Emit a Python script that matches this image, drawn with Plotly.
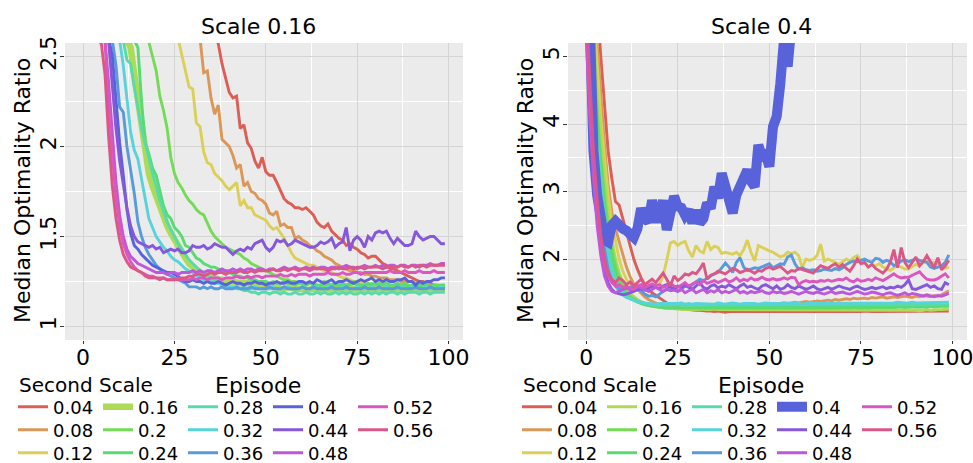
import colorsys
import plotly.graph_objects as go

W, H = 973, 463

# ---------------- data ----------------
second_scales = ["0.04", "0.08", "0.12", "0.16", "0.2", "0.24", "0.28",
                 "0.32", "0.36", "0.4", "0.44", "0.48", "0.52", "0.56"]
panel_titles = ["Scale 0.16", "Scale 0.4"]
x_ticks = [0, 25, 50, 75, 100]
y_ticks_left = [1, 1.5, 2, 2.5]
y_ticks_right = [1, 2, 3, 4, 5]

# Scale 0.16 panel (episode 0..99)
L004 = [9.5, 8.8, 8.1, 7.5, 6.9, 6.4, 5.9, 5.5, 5.1, 4.8,
        4.5, 4.3, 4.1, 3.9, 3.75, 3.6, 3.5, 3.4, 3.3, 3.22,
        3.15, 3.1, 3.05, 3.0, 2.96, 2.93, 2.9, 2.87, 2.84, 2.81,
        2.79, 2.77, 2.74, 2.72, 2.69, 2.66, 2.63, 2.57, 2.46, 2.38,
        2.3, 2.27, 2.28, 2.1, 2.12, 2.02, 1.99, 1.92, 1.88, 1.94,
        1.86, 1.84, 1.84, 1.8, 1.75, 1.71, 1.69, 1.68, 1.66, 1.66,
        1.65, 1.66, 1.64, 1.62, 1.58, 1.56, 1.55, 1.57, 1.53, 1.51,
        1.49, 1.48, 1.45, 1.46, 1.44, 1.43, 1.41, 1.4, 1.38, 1.39,
        1.39, 1.37, 1.35, 1.34, 1.32, 1.32, 1.31, 1.3, 1.29, 1.28,
        1.27, 1.26, 1.25, 1.25, 1.24, 1.24, 1.23, 1.23, 1.22, 1.22]
L008 = [9.0, 8.2, 7.4, 6.7, 6.1, 5.6, 5.1, 4.7, 4.4, 4.1,
        3.85, 3.65, 3.48, 3.33, 3.2, 3.1, 3.0, 2.95, 2.9, 2.86,
        2.83, 2.8, 2.78, 2.76, 2.74, 2.72, 2.7, 2.68, 2.66, 2.64,
        2.62, 2.61, 2.6, 2.41, 2.42, 2.27, 2.18, 2.23, 2.04, 2.02,
        2.0, 1.95, 1.88, 1.9, 1.78, 1.8, 1.75, 1.74, 1.71, 1.7,
        1.68, 1.63, 1.62, 1.64, 1.56, 1.57, 1.55, 1.55, 1.49, 1.5,
        1.48, 1.47, 1.45, 1.44, 1.42, 1.41, 1.39, 1.38, 1.37, 1.35,
        1.34, 1.33, 1.32, 1.31, 1.31, 1.3, 1.3, 1.29, 1.29, 1.28,
        1.28, 1.27, 1.27, 1.27, 1.26, 1.26, 1.26, 1.25, 1.25, 1.25,
        1.25, 1.24, 1.24, 1.24, 1.24, 1.23, 1.23, 1.23, 1.23, 1.23]
L012 = [8.5, 7.6, 6.8, 6.1, 5.5, 5.0, 4.6, 4.25, 3.95, 3.7,
        3.5, 3.33, 3.18, 3.06, 2.96, 2.88, 2.82, 2.77, 2.73, 2.7,
        2.68, 2.66, 2.65, 2.64, 2.63, 2.62, 2.6, 2.51, 2.42, 2.33,
        2.32, 2.13, 2.11, 1.97, 1.91, 1.9, 1.85, 1.83, 1.81, 1.78,
        1.76, 1.78, 1.8, 1.67, 1.7, 1.66, 1.66, 1.62, 1.61, 1.6,
        1.59, 1.56, 1.54, 1.55, 1.52, 1.49, 1.45, 1.41, 1.38, 1.37,
        1.36, 1.35, 1.34, 1.34, 1.33, 1.32, 1.31, 1.31, 1.3, 1.29,
        1.28, 1.27, 1.27, 1.26, 1.25, 1.25, 1.24, 1.24, 1.23, 1.23,
        1.22, 1.22, 1.22, 1.21, 1.22, 1.21, 1.21, 1.21, 1.21, 1.21,
        1.21, 1.2, 1.21, 1.2, 1.2, 1.2, 1.2, 1.2, 1.2, 1.2]
L016 = [6.5, 5.6, 4.9, 4.3, 3.9, 3.55, 3.28, 3.05, 2.88, 2.76,
        2.68, 2.63, 2.6, 2.55, 2.4, 2.25, 2.1, 1.95, 1.85, 1.78,
        1.72, 1.66, 1.61, 1.56, 1.52, 1.48, 1.44, 1.41, 1.38, 1.35,
        1.33, 1.31, 1.3, 1.29, 1.28, 1.27, 1.27, 1.26, 1.26, 1.25,
        1.25, 1.25, 1.24, 1.24, 1.24, 1.24, 1.23, 1.23, 1.23, 1.23,
        1.22, 1.22, 1.22, 1.22, 1.21, 1.21, 1.22, 1.21, 1.21, 1.21,
        1.21, 1.2, 1.21, 1.21, 1.21, 1.2, 1.21, 1.21, 1.2, 1.21,
        1.21, 1.21, 1.2, 1.21, 1.21, 1.2, 1.21, 1.21, 1.21, 1.2,
        1.21, 1.21, 1.2, 1.21, 1.21, 1.21, 1.2, 1.21, 1.21, 1.2,
        1.21, 1.21, 1.21, 1.2, 1.21, 1.21, 1.2, 1.21, 1.21, 1.21]
L020 = [7.5, 6.5, 5.7, 5.0, 4.45, 4.0, 3.65, 3.36, 3.12, 2.95,
        2.83, 2.75, 2.7, 2.67, 2.65, 2.63, 2.61, 2.6, 2.58, 2.5,
        2.42, 2.28, 2.2, 2.1, 1.94, 1.85, 1.8, 1.77, 1.73, 1.7,
        1.68, 1.65, 1.63, 1.62, 1.57, 1.53, 1.5, 1.48, 1.46, 1.44,
        1.43, 1.42, 1.41, 1.4, 1.38, 1.37, 1.35, 1.34, 1.33, 1.32,
        1.31, 1.3, 1.29, 1.28, 1.27, 1.26, 1.26, 1.25, 1.25, 1.24,
        1.24, 1.23, 1.24, 1.23, 1.23, 1.22, 1.23, 1.23, 1.22, 1.23,
        1.22, 1.23, 1.22, 1.23, 1.24, 1.23, 1.22, 1.23, 1.23, 1.24,
        1.23, 1.24, 1.23, 1.22, 1.23, 1.23, 1.22, 1.23, 1.24, 1.23,
        1.22, 1.23, 1.23, 1.24, 1.23, 1.22, 1.23, 1.23, 1.22, 1.23]
L024 = [6.8, 5.9, 5.1, 4.5, 4.0, 3.6, 3.3, 3.05, 2.87, 2.75,
        2.68, 2.64, 2.62, 2.6, 2.59, 2.55, 2.25, 2.02, 1.96, 1.88,
        1.84, 1.76, 1.67, 1.62, 1.6, 1.55, 1.53, 1.5, 1.45, 1.44,
        1.41, 1.38, 1.37, 1.35, 1.34, 1.33, 1.33, 1.32, 1.31, 1.3,
        1.3, 1.29, 1.28, 1.28, 1.27, 1.27, 1.26, 1.26, 1.25, 1.25,
        1.25, 1.24, 1.25, 1.24, 1.24, 1.25, 1.24, 1.24, 1.23, 1.24,
        1.24, 1.23, 1.24, 1.24, 1.23, 1.23, 1.25, 1.24, 1.23, 1.24,
        1.23, 1.24, 1.23, 1.24, 1.25, 1.24, 1.23, 1.23, 1.24, 1.23,
        1.24, 1.23, 1.24, 1.24, 1.23, 1.23, 1.24, 1.23, 1.23, 1.22,
        1.23, 1.23, 1.22, 1.23, 1.23, 1.22, 1.23, 1.22, 1.23, 1.23]
L028 = [6.3, 5.4, 4.7, 4.1, 3.65, 3.3, 3.02, 2.82, 2.7, 2.64,
        2.61, 2.59, 2.48, 2.46, 2.33, 2.22, 2.1, 2.02, 1.93, 1.85,
        1.78, 1.7, 1.64, 1.58, 1.54, 1.5, 1.46, 1.43, 1.4, 1.37,
        1.35, 1.33, 1.31, 1.3, 1.28, 1.27, 1.26, 1.25, 1.24, 1.23,
        1.22, 1.22, 1.21, 1.21, 1.2, 1.2, 1.19, 1.19, 1.18, 1.19,
        1.19, 1.18, 1.19, 1.19, 1.18, 1.19, 1.18, 1.18, 1.19, 1.18,
        1.18, 1.19, 1.18, 1.18, 1.19, 1.18, 1.19, 1.18, 1.18, 1.19,
        1.18, 1.19, 1.18, 1.19, 1.18, 1.18, 1.19, 1.18, 1.19, 1.18,
        1.19, 1.18, 1.19, 1.18, 1.19, 1.19, 1.18, 1.19, 1.18, 1.19,
        1.19, 1.19, 1.18, 1.19, 1.19, 1.18, 1.19, 1.19, 1.19, 1.19]
L032 = [5.8, 5.0, 4.3, 3.75, 3.3, 3.0, 2.8, 2.68, 2.62, 2.6,
        2.59, 2.45, 2.25, 2.08, 1.98, 1.93, 1.82, 1.72, 1.6, 1.55,
        1.5, 1.47, 1.44, 1.42, 1.39, 1.37, 1.36, 1.34, 1.32, 1.31,
        1.3, 1.28, 1.27, 1.26, 1.25, 1.25, 1.24, 1.24, 1.23, 1.23,
        1.22, 1.22, 1.22, 1.21, 1.22, 1.21, 1.21, 1.22, 1.21, 1.21,
        1.21, 1.21, 1.22, 1.21, 1.21, 1.21, 1.22, 1.21, 1.21, 1.21,
        1.22, 1.21, 1.21, 1.21, 1.22, 1.21, 1.21, 1.22, 1.21, 1.21,
        1.21, 1.22, 1.21, 1.21, 1.21, 1.22, 1.21, 1.21, 1.21, 1.22,
        1.21, 1.21, 1.21, 1.22, 1.21, 1.21, 1.21, 1.22, 1.21, 1.21,
        1.22, 1.21, 1.21, 1.21, 1.22, 1.21, 1.21, 1.21, 1.22, 1.21]
L036 = [5.2, 4.4, 3.75, 3.25, 2.95, 2.75, 2.65, 2.6, 2.59, 2.45,
        2.22, 2.19, 2.0, 1.88, 1.74, 1.58, 1.5, 1.44, 1.4, 1.37,
        1.34, 1.32, 1.3, 1.29, 1.28, 1.27, 1.26, 1.25, 1.24, 1.22,
        1.22, 1.22, 1.21, 1.22, 1.21, 1.22, 1.21, 1.21, 1.22, 1.21,
        1.21, 1.21, 1.22, 1.21, 1.21, 1.21, 1.22, 1.21, 1.21, 1.21,
        1.21, 1.22, 1.21, 1.21, 1.21, 1.22, 1.21, 1.21, 1.21, 1.21,
        1.22, 1.21, 1.21, 1.22, 1.21, 1.21, 1.21, 1.21, 1.22, 1.21,
        1.21, 1.21, 1.22, 1.21, 1.21, 1.21, 1.21, 1.22, 1.21, 1.21,
        1.21, 1.22, 1.21, 1.21, 1.21, 1.21, 1.22, 1.21, 1.21, 1.21,
        1.21, 1.22, 1.21, 1.21, 1.21, 1.22, 1.21, 1.21, 1.21, 1.21]
L040 = [5.0, 4.2, 3.6, 3.15, 2.85, 2.7, 2.63, 2.6, 2.5, 2.25,
        2.02, 1.84, 1.65, 1.52, 1.45, 1.43, 1.4, 1.38, 1.36, 1.34,
        1.33, 1.32, 1.31, 1.3, 1.3, 1.29, 1.28, 1.26, 1.25, 1.25,
        1.26, 1.25, 1.25, 1.24, 1.25, 1.24, 1.24, 1.25, 1.24, 1.23,
        1.24, 1.25, 1.24, 1.24, 1.23, 1.24, 1.24, 1.25, 1.24, 1.24,
        1.23, 1.24, 1.24, 1.25, 1.24, 1.24, 1.25, 1.24, 1.24, 1.25,
        1.25, 1.24, 1.25, 1.24, 1.26, 1.25, 1.24, 1.25, 1.26, 1.24,
        1.25, 1.25, 1.26, 1.25, 1.24, 1.25, 1.26, 1.25, 1.26, 1.27,
        1.25, 1.26, 1.25, 1.26, 1.25, 1.25, 1.26, 1.26, 1.27, 1.25,
        1.25, 1.23, 1.25, 1.24, 1.25, 1.25, 1.26, 1.26, 1.27, 1.27]
L044 = [4.8, 4.0, 3.4, 3.0, 2.75, 2.64, 2.6, 2.58, 2.35, 2.1,
        1.92, 1.78, 1.66, 1.56, 1.5, 1.47, 1.46, 1.45, 1.44, 1.45,
        1.43, 1.44, 1.41, 1.42, 1.43, 1.42, 1.43, 1.41, 1.41, 1.42,
        1.45, 1.44, 1.44, 1.45, 1.43, 1.44, 1.46, 1.45, 1.44, 1.44,
        1.42, 1.4, 1.42, 1.43, 1.42, 1.44, 1.43, 1.46, 1.47, 1.48,
        1.44, 1.42, 1.44, 1.48, 1.47, 1.48, 1.45, 1.46, 1.48, 1.47,
        1.46, 1.45, 1.44, 1.44, 1.45, 1.47, 1.46, 1.47, 1.49, 1.44,
        1.46, 1.47, 1.55, 1.42, 1.48, 1.5, 1.48, 1.44, 1.5, 1.48,
        1.52, 1.53, 1.52, 1.53, 1.49, 1.46, 1.49, 1.47, 1.45, 1.45,
        1.46, 1.53, 1.5, 1.48, 1.49, 1.5, 1.5, 1.48, 1.46, 1.46]
L048 = [4.6, 3.8, 3.25, 2.9, 2.7, 2.62, 2.59, 2.35, 2.05, 1.8,
        1.62, 1.5, 1.43, 1.39, 1.37, 1.35, 1.34, 1.33, 1.32, 1.31,
        1.3, 1.3, 1.3, 1.29, 1.3, 1.3, 1.29, 1.3, 1.3, 1.3,
        1.31, 1.3, 1.31, 1.3, 1.31, 1.31, 1.3, 1.31, 1.32, 1.31,
        1.31, 1.32, 1.31, 1.32, 1.31, 1.32, 1.32, 1.31, 1.32, 1.32,
        1.31, 1.32, 1.32, 1.31, 1.32, 1.33, 1.32, 1.32, 1.33, 1.32,
        1.32, 1.33, 1.32, 1.33, 1.32, 1.33, 1.33, 1.32, 1.33, 1.33,
        1.32, 1.33, 1.34, 1.33, 1.33, 1.32, 1.33, 1.34, 1.33, 1.33,
        1.34, 1.33, 1.34, 1.33, 1.34, 1.34, 1.33, 1.34, 1.34, 1.33,
        1.34, 1.34, 1.33, 1.34, 1.34, 1.35, 1.34, 1.34, 1.35, 1.35]
L052 = [4.4, 3.6, 3.1, 2.8, 2.65, 2.6, 2.58, 2.25, 1.95, 1.72,
        1.56, 1.46, 1.4, 1.36, 1.33, 1.31, 1.3, 1.29, 1.28, 1.28,
        1.27, 1.27, 1.27, 1.26, 1.26, 1.26, 1.27, 1.26, 1.26, 1.26,
        1.27, 1.26, 1.27, 1.27, 1.26, 1.27, 1.27, 1.27, 1.26, 1.27,
        1.27, 1.27, 1.28, 1.27, 1.27, 1.28, 1.27, 1.28, 1.28, 1.27,
        1.28, 1.28, 1.28, 1.28, 1.29, 1.28, 1.28, 1.29, 1.28, 1.29,
        1.29, 1.29, 1.28, 1.29, 1.29, 1.29, 1.29, 1.3, 1.29, 1.29,
        1.29, 1.3, 1.29, 1.29, 1.3, 1.3, 1.29, 1.3, 1.3, 1.3,
        1.3, 1.3, 1.3, 1.3, 1.31, 1.3, 1.3, 1.3, 1.31, 1.3,
        1.3, 1.3, 1.31, 1.3, 1.3, 1.3, 1.31, 1.3, 1.3, 1.3]
L056 = [4.2, 3.4, 2.95, 2.7, 2.6, 2.57, 2.4, 2.05, 1.78, 1.6,
        1.48, 1.4, 1.36, 1.33, 1.32, 1.31, 1.3, 1.28, 1.27, 1.27,
        1.27, 1.26, 1.27, 1.26, 1.26, 1.26, 1.26, 1.27, 1.27, 1.28,
        1.28, 1.29, 1.29, 1.28, 1.29, 1.3, 1.29, 1.3, 1.3, 1.29,
        1.3, 1.3, 1.3, 1.31, 1.3, 1.3, 1.31, 1.3, 1.31, 1.31,
        1.31, 1.31, 1.32, 1.31, 1.31, 1.32, 1.31, 1.32, 1.32, 1.31,
        1.32, 1.32, 1.31, 1.32, 1.32, 1.32, 1.32, 1.31, 1.32, 1.32,
        1.33, 1.32, 1.32, 1.33, 1.32, 1.33, 1.33, 1.32, 1.33, 1.33,
        1.33, 1.33, 1.32, 1.33, 1.33, 1.33, 1.33, 1.34, 1.33, 1.33,
        1.34, 1.33, 1.34, 1.34, 1.33, 1.34, 1.34, 1.34, 1.34, 1.34]

# Scale 0.4 panel (episode 0..99)
R004 = [9.0, 7.8, 6.7, 5.8, 5.0, 4.3, 3.6, 3.2, 2.85, 2.8,
        2.6, 2.4, 2.2, 2.0, 1.85, 1.72, 1.62, 1.55, 1.5, 1.46,
        1.42, 1.38, 1.35, 1.32, 1.3, 1.28, 1.26, 1.25, 1.25, 1.24,
        1.24, 1.24, 1.23, 1.23, 1.23, 1.22, 1.23, 1.22, 1.21, 1.22,
        1.22, 1.22, 1.21, 1.22, 1.22, 1.22, 1.21, 1.22, 1.22, 1.21,
        1.22, 1.22, 1.22, 1.21, 1.22, 1.22, 1.22, 1.21, 1.22, 1.22,
        1.21, 1.22, 1.21, 1.21, 1.22, 1.22, 1.22, 1.21, 1.22, 1.22,
        1.22, 1.22, 1.22, 1.21, 1.22, 1.22, 1.23, 1.22, 1.22, 1.22,
        1.22, 1.22, 1.23, 1.22, 1.22, 1.23, 1.22, 1.22, 1.23, 1.22,
        1.22, 1.23, 1.22, 1.23, 1.22, 1.23, 1.23, 1.23, 1.22, 1.23]
R008 = [8.5, 7.2, 6.1, 5.2, 4.4, 3.7, 3.1, 2.7, 2.45, 2.25,
        2.05, 1.88, 1.74, 1.63, 1.55, 1.49, 1.44, 1.4, 1.37, 1.34,
        1.32, 1.3, 1.29, 1.28, 1.27, 1.27, 1.26, 1.26, 1.25, 1.26,
        1.26, 1.26, 1.27, 1.27, 1.27, 1.28, 1.28, 1.28, 1.29, 1.29,
        1.3, 1.3, 1.31, 1.3, 1.31, 1.32, 1.32, 1.31, 1.32, 1.33,
        1.33, 1.34, 1.33, 1.34, 1.35, 1.34, 1.35, 1.36, 1.35, 1.36,
        1.37, 1.36, 1.37, 1.38, 1.37, 1.38, 1.39, 1.38, 1.4, 1.39,
        1.4, 1.41, 1.4, 1.42, 1.41, 1.42, 1.42, 1.41, 1.43, 1.42,
        1.43, 1.44, 1.42, 1.43, 1.44, 1.43, 1.44, 1.45, 1.44, 1.43,
        1.45, 1.44, 1.46, 1.45, 1.44, 1.46, 1.45, 1.47, 1.5, 1.53]
R012 = [8.0, 6.8, 5.8, 4.9, 4.1, 3.5, 2.95, 2.55, 2.25, 2.0,
        1.82, 1.7, 1.62, 1.58, 1.55, 1.54, 1.55, 1.58, 1.6, 1.62,
        1.62, 1.75, 1.98, 2.24, 2.26, 2.2, 2.24, 2.26, 2.12, 2.03,
        2.2, 2.12, 2.09, 2.26, 2.14, 2.19, 2.17, 2.08, 2.1, 2.08,
        2.07, 2.1, 2.05, 2.14, 2.28, 2.1, 1.97, 2.2, 2.17, 2.15,
        2.12, 2.1, 2.06, 2.03, 2.05, 2.1, 2.08, 2.1, 2.05, 1.87,
        2.0, 1.98, 2.0, 2.05, 2.22, 1.97, 2.0, 1.98, 1.95, 1.92,
        1.96, 2.0, 1.97, 2.02, 2.05, 1.98, 1.95, 1.88, 1.92, 1.9,
        1.93, 1.88, 1.86, 1.83, 1.87, 1.9, 1.88, 1.85, 1.85, 1.88,
        1.92, 1.9, 1.95, 1.97, 1.93, 1.95, 1.93, 1.9, 1.86, 1.88]
R016 = [7.5, 6.3, 5.3, 4.5, 3.8, 3.2, 2.7, 2.3, 2.0, 1.8,
        1.66, 1.56, 1.49, 1.44, 1.4, 1.37, 1.34, 1.32, 1.3, 1.29,
        1.28, 1.28, 1.27, 1.27, 1.26, 1.26, 1.26, 1.25, 1.26, 1.25,
        1.25, 1.26, 1.25, 1.25, 1.25, 1.26, 1.25, 1.25, 1.24, 1.25,
        1.25, 1.24, 1.25, 1.25, 1.24, 1.25, 1.25, 1.24, 1.25, 1.24,
        1.25, 1.25, 1.24, 1.25, 1.24, 1.24, 1.25, 1.24, 1.24, 1.25,
        1.24, 1.24, 1.25, 1.24, 1.24, 1.25, 1.24, 1.24, 1.25, 1.24,
        1.24, 1.25, 1.24, 1.25, 1.24, 1.24, 1.25, 1.24, 1.24, 1.25,
        1.24, 1.25, 1.24, 1.24, 1.25, 1.24, 1.24, 1.25, 1.24, 1.25,
        1.24, 1.23, 1.24, 1.25, 1.24, 1.25, 1.25, 1.25, 1.26, 1.26]
R020 = [7.2, 6.0, 5.0, 4.2, 3.5, 2.95, 2.5, 2.15, 1.9, 1.72,
        1.6, 1.51, 1.45, 1.41, 1.38, 1.35, 1.33, 1.31, 1.3, 1.29,
        1.28, 1.28, 1.27, 1.27, 1.27, 1.26, 1.27, 1.27, 1.26, 1.27,
        1.26, 1.27, 1.27, 1.26, 1.27, 1.26, 1.26, 1.27, 1.26, 1.26,
        1.27, 1.26, 1.26, 1.27, 1.26, 1.26, 1.27, 1.26, 1.27, 1.26,
        1.26, 1.27, 1.26, 1.26, 1.27, 1.26, 1.27, 1.26, 1.26, 1.27,
        1.27, 1.26, 1.27, 1.27, 1.26, 1.27, 1.27, 1.26, 1.27, 1.27,
        1.28, 1.27, 1.27, 1.28, 1.27, 1.27, 1.28, 1.27, 1.28, 1.28,
        1.27, 1.28, 1.28, 1.28, 1.28, 1.29, 1.28, 1.28, 1.29, 1.29,
        1.28, 1.29, 1.29, 1.29, 1.3, 1.29, 1.3, 1.31, 1.31, 1.32]
R024 = [7.0, 5.8, 4.8, 4.0, 3.35, 2.8, 2.35, 2.02, 1.8, 1.64,
        1.54, 1.47, 1.42, 1.39, 1.36, 1.34, 1.32, 1.31, 1.3, 1.29,
        1.29, 1.28, 1.28, 1.28, 1.29, 1.28, 1.28, 1.29, 1.28, 1.28,
        1.28, 1.29, 1.28, 1.28, 1.29, 1.28, 1.28, 1.28, 1.29, 1.28,
        1.29, 1.28, 1.28, 1.29, 1.28, 1.28, 1.29, 1.28, 1.28, 1.29,
        1.28, 1.28, 1.29, 1.28, 1.28, 1.29, 1.28, 1.29, 1.28, 1.28,
        1.29, 1.28, 1.28, 1.29, 1.28, 1.29, 1.28, 1.28, 1.29, 1.28,
        1.29, 1.29, 1.28, 1.29, 1.28, 1.29, 1.29, 1.28, 1.29, 1.29,
        1.28, 1.29, 1.29, 1.28, 1.29, 1.29, 1.3, 1.29, 1.29, 1.3,
        1.29, 1.29, 1.3, 1.29, 1.3, 1.3, 1.29, 1.3, 1.3, 1.3]
R028 = [6.8, 5.6, 4.6, 3.8, 3.15, 2.62, 2.2, 1.9, 1.7, 1.57,
        1.49, 1.44, 1.41, 1.38, 1.36, 1.35, 1.34, 1.33, 1.32, 1.32,
        1.31, 1.32, 1.32, 1.31, 1.32, 1.32, 1.31, 1.32, 1.31, 1.32,
        1.32, 1.31, 1.32, 1.31, 1.32, 1.32, 1.31, 1.32, 1.32, 1.31,
        1.32, 1.32, 1.31, 1.32, 1.32, 1.31, 1.32, 1.31, 1.32, 1.32,
        1.31, 1.32, 1.32, 1.31, 1.32, 1.32, 1.31, 1.32, 1.32, 1.31,
        1.32, 1.32, 1.31, 1.32, 1.32, 1.31, 1.32, 1.32, 1.31, 1.32,
        1.32, 1.31, 1.32, 1.31, 1.32, 1.32, 1.31, 1.32, 1.32, 1.31,
        1.32, 1.32, 1.31, 1.32, 1.32, 1.31, 1.32, 1.32, 1.31, 1.32,
        1.32, 1.31, 1.32, 1.32, 1.31, 1.32, 1.32, 1.31, 1.32, 1.32]
R032 = [6.5, 5.3, 4.3, 3.5, 2.9, 2.4, 2.02, 1.76, 1.6, 1.52,
        1.47, 1.43, 1.41, 1.39, 1.37, 1.36, 1.35, 1.34, 1.34, 1.33,
        1.34, 1.34, 1.33, 1.34, 1.33, 1.34, 1.35, 1.33, 1.34, 1.33,
        1.34, 1.34, 1.33, 1.34, 1.34, 1.33, 1.35, 1.34, 1.33, 1.34,
        1.35, 1.34, 1.33, 1.34, 1.34, 1.35, 1.34, 1.33, 1.34, 1.35,
        1.34, 1.34, 1.33, 1.34, 1.35, 1.34, 1.34, 1.35, 1.34, 1.33,
        1.34, 1.35, 1.34, 1.34, 1.35, 1.34, 1.34, 1.35, 1.34, 1.35,
        1.34, 1.35, 1.34, 1.34, 1.35, 1.35, 1.34, 1.35, 1.35, 1.34,
        1.35, 1.35, 1.34, 1.35, 1.35, 1.36, 1.35, 1.35, 1.35, 1.36,
        1.35, 1.35, 1.36, 1.35, 1.36, 1.36, 1.35, 1.36, 1.36, 1.36]
R036 = [6.2, 5.0, 4.0, 3.2, 2.6, 2.15, 1.85, 1.68, 1.6, 1.56,
        1.55, 1.56, 1.58, 1.6, 1.57, 1.52, 1.48, 1.45, 1.46, 1.44,
        1.48, 1.52, 1.55, 1.6, 1.57, 1.52, 1.55, 1.6, 1.58, 1.62,
        1.66, 1.7, 1.68, 1.72, 1.75, 1.78, 1.8, 1.87, 1.94, 1.88,
        1.8, 1.95, 2.02, 1.88, 1.83, 1.85, 1.87, 1.86, 1.88, 1.9,
        1.93, 1.87, 1.9, 1.93, 1.92, 2.03, 2.06, 1.93, 1.85, 1.87,
        1.84, 1.83, 1.84, 1.82, 1.83, 1.85, 1.84, 1.83, 1.86, 1.84,
        1.87, 1.92, 1.95, 1.97, 1.96, 1.98, 2.0, 1.97, 1.95, 2.01,
        2.0, 1.95, 1.98, 1.96, 1.9, 1.93, 1.97, 1.99, 1.96, 1.98,
        2.0, 1.98, 1.97, 1.95, 1.88, 1.86, 1.88, 1.9, 1.95, 2.06]
# 0.4 leaves the visible range after episode 58
R040 = [7.5, 4.6, 3.6, 2.95, 2.5, 2.28, 2.25, 2.5, 2.56, 2.48,
        2.45, 2.42, 2.36, 2.32, 2.45, 2.75, 2.6, 2.55, 2.87, 2.6,
        2.6, 2.87, 2.43, 2.7, 2.93, 2.78, 2.76, 2.65, 2.73, 2.53,
        2.72, 2.53, 2.6, 2.83, 2.75, 3.07, 2.9, 3.27, 3.1, 2.85,
        2.68, 2.95, 3.1, 3.23, 3.32, 3.15, 3.07, 3.69, 3.52, 3.55,
        3.37, 3.96, 4.11, 4.6, 5.25, 4.85, 5.4, 5.9, 6.6]
R044 = [5.5, 4.3, 3.4, 2.7, 2.2, 1.85, 1.65, 1.55, 1.5, 1.48,
        1.47, 1.48, 1.5, 1.52, 1.55, 1.56, 1.54, 1.57, 1.6, 1.58,
        1.56, 1.6, 1.62, 1.58, 1.55, 1.6, 1.57, 1.62, 1.58, 1.55,
        1.6, 1.65, 1.58, 1.55, 1.6, 1.62, 1.57, 1.6, 1.58, 1.62,
        1.59, 1.56, 1.6, 1.63, 1.58, 1.6, 1.57, 1.55, 1.6, 1.62,
        1.59, 1.56, 1.6, 1.55, 1.57, 1.62, 1.58, 1.56, 1.6, 1.58,
        1.55, 1.57, 1.6, 1.56, 1.54, 1.56, 1.58, 1.55, 1.57, 1.6,
        1.58, 1.56, 1.55, 1.58, 1.6, 1.57, 1.55, 1.56, 1.58, 1.56,
        1.57, 1.59, 1.56, 1.58, 1.57, 1.6, 1.58, 1.62, 1.69, 1.56,
        1.55, 1.57, 1.6, 1.62, 1.58, 1.6, 1.56, 1.55, 1.65, 1.62]
R048 = [5.3, 4.1, 3.2, 2.5, 2.05, 1.75, 1.6, 1.52, 1.5, 1.52,
        1.55, 1.58, 1.54, 1.56, 1.6, 1.57, 1.55, 1.52, 1.55, 1.58,
        1.55, 1.52, 1.55, 1.53, 1.54, 1.52, 1.55, 1.5, 1.53, 1.55,
        1.5, 1.52, 1.55, 1.5, 1.53, 1.51, 1.55, 1.5, 1.52, 1.5,
        1.53, 1.55, 1.5, 1.52, 1.49, 1.52, 1.5, 1.51, 1.53, 1.5,
        1.49, 1.52, 1.5, 1.51, 1.49, 1.5, 1.52, 1.5, 1.48, 1.5,
        1.52, 1.5, 1.49, 1.51, 1.5, 1.48, 1.5, 1.52, 1.49, 1.5,
        1.51, 1.49, 1.48, 1.5, 1.52, 1.5, 1.48, 1.49, 1.51, 1.5,
        1.48, 1.47, 1.49, 1.5, 1.48, 1.46, 1.48, 1.5, 1.47, 1.49,
        1.48, 1.46, 1.45, 1.47, 1.46, 1.44, 1.46, 1.45, 1.47, 1.49]
R052 = [5.6, 4.4, 3.5, 2.8, 2.3, 1.95, 1.75, 1.65, 1.6, 1.62,
        1.58, 1.6, 1.57, 1.55, 1.6, 1.62, 1.58, 1.6, 1.63, 1.6,
        1.62, 1.58, 1.6, 1.64, 1.6, 1.58, 1.62, 1.65, 1.6, 1.63,
        1.66, 1.62, 1.68, 1.64, 1.66, 1.68, 1.65, 1.67, 1.7, 1.66,
        1.68, 1.72, 1.67, 1.7, 1.68, 1.72, 1.69, 1.7, 1.73, 1.7,
        1.69, 1.71, 1.69, 1.7, 1.72, 1.7, 1.73, 1.72, 1.62, 1.66,
        1.68, 1.66, 1.67, 1.66, 1.68, 1.67, 1.69, 1.67, 1.68, 1.7,
        1.69, 1.72, 1.68, 1.66, 1.7, 1.67, 1.68, 1.7, 1.68, 1.72,
        1.7, 1.68, 1.71, 1.75, 1.78, 1.74, 1.72, 1.73, 1.73, 1.76,
        1.79, 1.81, 1.75, 1.7, 1.69, 1.69, 1.71, 1.75, 1.78, 1.72]
R056 = [5.8, 4.6, 3.6, 2.9, 2.35, 2.0, 1.8, 1.7, 1.65, 1.72,
        1.68, 1.62, 1.66, 1.6, 1.65, 1.7, 1.62, 1.66, 1.7, 1.65,
        1.72, 1.79, 1.7, 1.6, 1.75, 1.68, 1.72, 1.78, 1.76, 1.8,
        1.78, 1.85, 1.94, 1.7, 1.76, 1.78, 1.82, 1.8, 1.78, 1.82,
        1.86, 1.84, 1.8, 1.82, 1.85, 1.82, 1.79, 1.83, 1.82, 1.86,
        1.88, 1.85, 1.87, 1.89, 1.84, 1.79, 1.83, 1.82, 1.86, 1.84,
        1.82, 1.8, 1.79, 1.85, 1.9, 1.88, 1.86, 1.9, 1.93, 1.88,
        1.92, 1.86, 1.82, 1.9, 2.0, 1.93, 1.95, 1.88, 1.92, 1.86,
        1.82, 1.79, 1.85, 1.95, 2.14, 1.87, 2.17, 1.95, 1.87, 1.95,
        2.03, 1.9, 1.96, 2.05, 1.95, 1.87, 2.02, 1.84, 1.9, 1.98]

left_series = [L004, L008, L012, L016, L020, L024, L028,
               L032, L036, L040, L044, L048, L052, L056]
right_series = [R004, R008, R012, R016, R020, R024, R028,
                R032, R036, R040, R044, R048, R052, R056]

# ---------------- styling ----------------
FONT = "DejaVu Sans"
FS = 22
LEG_FS = 18


def hls_color(i, n=14):
    h = (0.01 + i / n) % 1.0
    r, g, b = colorsys.hls_to_rgb(h, 0.6, 0.65)
    return "#%02x%02x%02x" % (round(r * 255), round(g * 255), round(b * 255))


colors = [hls_color(i) for i in range(len(second_scales))]


def px_x(p):
    return p / W


def px_y(p):
    return 1 - p / H


fig = go.Figure()

panels = [
    dict(series=left_series, xa="x", ya="y", highlight="0.16", hw=6.5,
         legends=["legend", "legend2", "legend3"]),
    dict(series=right_series, xa="x2", ya="y2", highlight="0.4", hw=10.0,
         legends=["legend4", "legend5", "legend6"]),
]

for p in panels:
    for i, (lab, ys) in enumerate(zip(second_scales, p["series"])):
        fig.add_trace(go.Scatter(
            x=list(range(len(ys))), y=ys, mode="lines", name=lab,
            line=dict(color=colors[i], width=p["hw"] if lab == p["highlight"] else 2.9),
            xaxis=p["xa"], yaxis=p["ya"], legend=p["legends"][i % 3],
            showlegend=True,
        ))

dom_left = [px_x(65), px_x(463)]
dom_right = [px_x(568), px_x(967)]
dom_y = [px_y(340), px_y(43)]

common_x = dict(range=[-4.95, 103.95], tick0=0, dtick=25, tickmode="linear",
                showgrid=True, gridcolor="#d4d4d4", gridwidth=1.2,
                minor=dict(dtick=12.5, tick0=0, showgrid=True, gridcolor="white", gridwidth=1.2),
                zeroline=False, showline=False, ticks="outside", ticklen=3,
                tickcolor="#333333", tickwidth=1.1, ticklabelstandoff=-5,
                ticklabeloverflow="allow",
                tickfont=dict(size=FS, color="black", family=FONT))
common_y = dict(showgrid=True, gridcolor="#d4d4d4", gridwidth=1.2,
                zeroline=False, showline=False, ticks="outside", ticklen=4,
                tickcolor="#333333", tickwidth=1.1, tickangle=-90,
                ticklabelstandoff=-5, ticklabeloverflow="allow",
                tickfont=dict(size=FS, color="black", family=FONT))

layout = dict(
    width=W, height=H,
    margin=dict(l=0, r=0, t=0, b=0, autoexpand=False),
    paper_bgcolor="white", plot_bgcolor="#ebebeb",
    font=dict(family=FONT, size=FS, color="black"),
    xaxis=dict(domain=dom_left, anchor="y", **common_x),
    xaxis2=dict(domain=dom_right, anchor="y2", **common_x),
    yaxis=dict(domain=dom_y, anchor="x", range=[0.925, 2.575], tick0=1, dtick=0.5,
               tickmode="linear",
               minor=dict(dtick=0.25, tick0=1, showgrid=True, gridcolor="white", gridwidth=1.2),
               **common_y),
    yaxis2=dict(domain=dom_y, anchor="x2", range=[0.8, 5.2], tick0=1, dtick=1,
                tickmode="linear",
                minor=dict(dtick=0.5, tick0=1, showgrid=True, gridcolor="white", gridwidth=1.2),
                **common_y),
    showlegend=True,
)

row_y = [407, 430, 453]
leg_x = [13, 517]
for k in range(2):
    for r in range(3):
        name = panels[k]["legends"][r]
        layout[name] = dict(
            orientation="h", x=px_x(leg_x[k]), xanchor="left",
            y=px_y(row_y[r]), yanchor="middle",
            entrywidth=40, entrywidthmode="pixels",
            font=dict(size=LEG_FS, family=FONT, color="black"),
            bgcolor="rgba(0,0,0,0)", borderwidth=0, itemwidth=30,
            traceorder="normal", tracegroupgap=0,
        )

annotations = []
title_x = [258, 761]
ylab_x = [22, 525]
for k in range(2):
    annotations.append(dict(text=panel_titles[k], x=px_x(title_x[k]), y=px_y(26),
                            xref="paper", yref="paper", showarrow=False,
                            xanchor="center", yanchor="middle",
                            font=dict(size=FS, family=FONT, color="black")))
    annotations.append(dict(text="Median Optimality Ratio", x=px_x(ylab_x[k]), y=px_y(191),
                            xref="paper", yref="paper", showarrow=False, textangle=-90,
                            xanchor="center", yanchor="middle",
                            font=dict(size=FS, family=FONT, color="black")))
    annotations.append(dict(text="Episode", x=px_x(title_x[k]), y=px_y(385),
                            xref="paper", yref="paper", showarrow=False,
                            xanchor="center", yanchor="middle",
                            font=dict(size=FS, family=FONT, color="black")))
    annotations.append(dict(text="Second Scale", x=px_x(leg_x[k] + 4), y=px_y(385),
                            xref="paper", yref="paper", showarrow=False,
                            xanchor="left", yanchor="middle",
                            font=dict(size=20, family=FONT, color="black")))
layout["annotations"] = annotations

fig.update_layout(**layout)
fig.write_html("out.html")
